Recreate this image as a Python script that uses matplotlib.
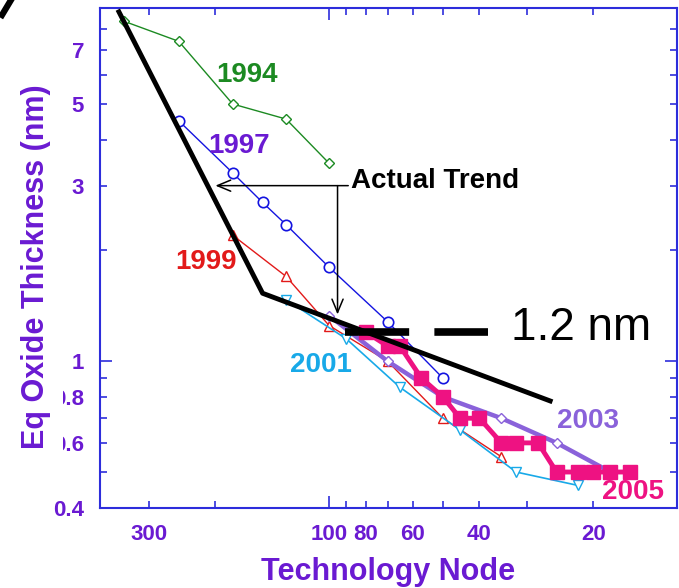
import matplotlib
matplotlib.use("Agg")
import matplotlib.pyplot as plt
from matplotlib.lines import Line2D

plt.rcParams["font.family"] = ["Liberation Sans", "DejaVu Sans"]
plt.rcParams["font.weight"] = "bold"

PURPLE = "#6a1ad2"
AXIS_BLUE = "#2d2ddb"
GREEN = "#1c8a22"
BLUE = "#1414e0"
RED = "#e21a1a"
CYAN = "#18a9e8"
LAVENDER = "#8a62da"
PINK = "#ee1282"

# roadmap editions: technology node (nm) vs equivalent oxide thickness (nm)
NODE_1994 = [350, 250, 180, 130, 100]
EOT_1994 = [8.4, 7.4, 5.0, 4.55, 3.45]

NODE_1997 = [250, 180, 150, 130, 100, 70, 50]
EOT_1997 = [4.5, 3.25, 2.7, 2.35, 1.8, 1.28, 0.9]

NODE_1999 = [180, 130, 100, 70, 50, 35]
EOT_1999 = [2.2, 1.7, 1.25, 1.0, 0.7, 0.55]

NODE_2001 = [130, 90, 65, 45, 32, 22]
EOT_2001 = [1.47, 1.15, 0.85, 0.65, 0.5, 0.46]

NODE_2003 = [100, 70, 50, 35, 25, 18]
EOT_2003 = [1.33, 1.0, 0.8, 0.7, 0.6, 0.5]

NODE_2005 = [80, 70, 65, 57, 50, 45, 40, 35, 32, 28, 25, 22, 20, 18, 16]
EOT_2005 = [1.2, 1.1, 1.1, 0.9, 0.8, 0.7, 0.7, 0.6, 0.6, 0.6,
            0.5, 0.5, 0.5, 0.5, 0.5]

# actual scaling trend
TREND_NODE = [360, 150, 26]
TREND_EOT = [8.9, 1.53, 0.78]

# 1.2 nm limit marker
LIMIT_EOT = 1.2
LIMIT_NODE = [91, 38]

X_MINOR = [20, 30, 40, 50, 60, 70, 80, 90, 200, 300]
X_MINOR_LABELS = ["20", "", "40", "", "60", "", "80", "", "", "300"]
Y_MINOR = [0.4, 0.5, 0.6, 0.7, 0.8, 0.9, 2, 3, 4, 5, 6, 7, 8]
Y_MINOR_LABELS = ["0.4", "", "0.6", "", "0.8", "", "", "3", "", "5", "", "7", ""]

fig = plt.figure(figsize=(6.79, 5.88), dpi=100)
ax = fig.add_axes([0.1473, 0.1366, 0.8498, 0.8493])
ax.set_xscale("log")
ax.set_yscale("log")

ax.plot(NODE_1994, EOT_1994, color=GREEN, lw=1.0, marker="D", ms=4.6,
        mfc="white", mec=GREEN, mew=1.0, zorder=2)
ax.plot(NODE_1997, EOT_1997, color=BLUE, lw=1.0, marker="o", ms=7.5,
        mfc="white", mec=BLUE, mew=1.2, zorder=2)
ax.plot(NODE_1999, EOT_1999, color=RED, lw=1.0, marker="^", ms=7,
        mfc="white", mec=RED, mew=1.0, zorder=2)
ax.plot(NODE_2001, EOT_2001, color=CYAN, lw=1.2, marker="v", ms=7,
        mfc="white", mec=CYAN, mew=1.0, zorder=2)
ax.plot(NODE_2003, EOT_2003, color=LAVENDER, lw=3.2, marker="D", ms=4.8,
        mfc="white", mec=LAVENDER, mew=1.0, zorder=3)
ax.plot(NODE_2005, EOT_2005, color=PINK, lw=3.5, marker="s", ms=10.5,
        mfc=PINK, mec=PINK, zorder=4)
ax.plot(TREND_NODE, TREND_EOT, color="black", lw=3.5, zorder=5)
ax.plot(LIMIT_NODE, [LIMIT_EOT] * 2, color="black", lw=5.5,
        dashes=(8.4, 3.3), dash_capstyle="butt", zorder=6)

# edition labels
labels = [
    ("1994", GREEN, 0.2023, 0.853),
    ("1997", PURPLE, 0.1877, 0.7109),
    ("1999", RED, 0.130, 0.4774),
    ("2001", CYAN, 0.3293, 0.2723),
    ("2003", LAVENDER, 0.7926, 0.159),
    ("2005", PINK, 0.8696, 0.0174),
]
for txt, col, lx, ly in labels:
    ax.text(lx, ly, txt, color=col, fontsize=20, ha="left", va="baseline",
            transform=ax.transAxes, zorder=8)

ax.text(0.4343, 0.6396, "Actual Trend", color="black", fontsize=20,
        ha="left", va="baseline", transform=ax.transAxes, zorder=8)
arrow = dict(arrowstyle="->,head_length=0.6,head_width=0.25", color="black",
             lw=1.1, shrinkA=0, shrinkB=0, mutation_scale=16)
ax.annotate("", xy=(200, 3.0), xytext=(89, 3.0), arrowprops=arrow, zorder=7)
ax.annotate("", xy=(95, 1.34), xytext=(95, 3.0), arrowprops=arrow, zorder=7)

ax.annotate(f"{LIMIT_EOT} nm", xy=(0.7123, LIMIT_EOT),
            xycoords=("axes fraction", "data"), xytext=(0, -6),
            textcoords="offset points", fontsize=33, fontweight="normal",
            color="black", ha="left", va="baseline", zorder=8)

ax.set_xlim(404, 12)
ax.set_ylim(0.4, 9.1)
ax.set_xticks([100], ["100"])
ax.set_xticks(X_MINOR, X_MINOR_LABELS, minor=True)
ax.set_yticks([1], ["1"])
ax.set_yticks(Y_MINOR, Y_MINOR_LABELS, minor=True)
ax.tick_params(which="both", direction="in", top=True, right=True,
               color=AXIS_BLUE, labelcolor=PURPLE, labelsize=16, pad=11.5,
               width=1.2)
ax.tick_params(which="major", length=8.4)
ax.tick_params(which="minor", length=4.8)
for s in ax.spines.values():
    s.set_color(AXIS_BLUE)
    s.set_linewidth(1.5)

fig.text(388 / 679, 1 - 580 / 588, "Technology Node", color=PURPLE,
         fontsize=22, ha="center", va="baseline")
fig.text(44.5 / 679, 1 - 267 / 588, "Eq Oxide Thickness (nm)", color=PURPLE,
         fontsize=22, rotation=90, rotation_mode="anchor", ha="center",
         va="baseline",
         bbox=dict(facecolor="white", edgecolor="none", pad=8.6))

fig.add_artist(Line2D([2 / 679, 11 / 679], [1 - 15 / 588, 1.0], color="black",
                      lw=4.5, transform=fig.transFigure))

fig.savefig("out.png", dpi=100)
